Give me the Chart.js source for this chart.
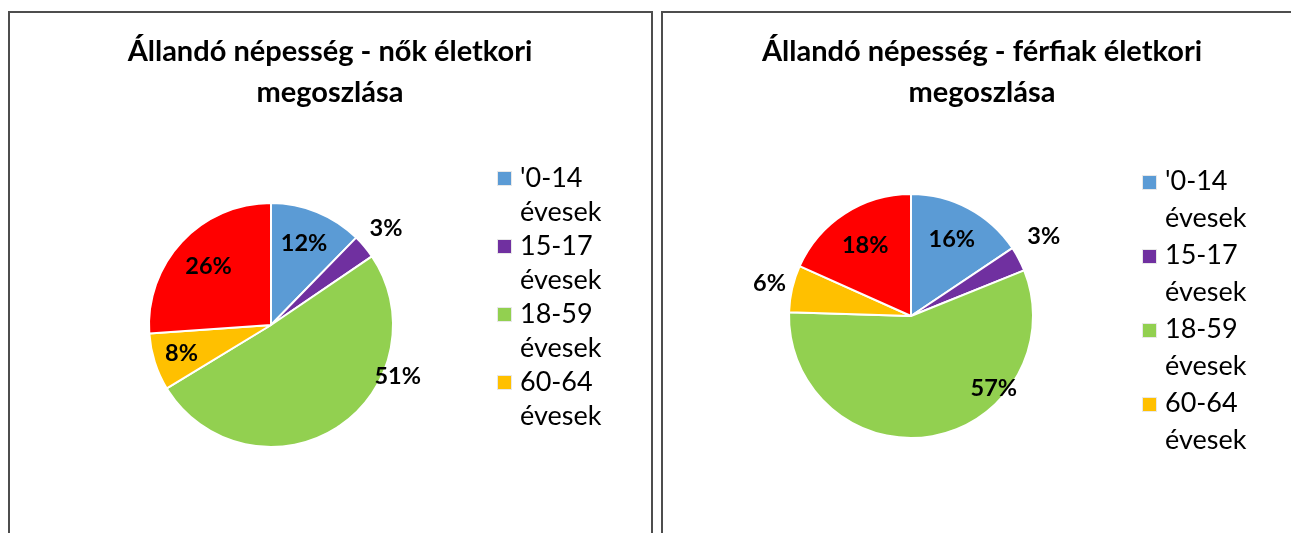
<!DOCTYPE html>
<html>
<head>
<meta charset="utf-8">
<script src="https://cdn.jsdelivr.net/npm/chart.js@4"></script>
<style>
    body { margin: 0; background: #fff; width: 1291px; height: 533px; overflow: hidden; position: relative; font-family: Lato, "Noto Sans", sans-serif; }
    .box { position: absolute; top: 11px; height: 540px; border: 2px solid #4d4d4d; box-sizing: border-box; }
    canvas { position: absolute; top: 13px; }
    .legend { position: absolute; font-size: 27px; color: #000; }
    .legend .item { position: relative; padding-left: 23px; }
    .legend .sw { position: absolute; left: 0; width: 13px; height: 13px; border: 1px solid #e8e8e8; }
</style>
</head>
<body>
<div class="box" style="left:8px; width:645px;"></div>
<div class="box" style="left:661px; width:660px;"></div>
<canvas id="nok-chart" width="640" height="520" style="left:10px;"></canvas>
<canvas id="ferfiak-chart" width="638" height="520" style="left:663px;"></canvas>
<div class="legend" id="nok-legend" style="left:497px; top:160px; line-height:34px;"></div>
<div class="legend" id="ferfiak-legend" style="left:1142px; top:161px; line-height:37px;"></div>
<script>
const ageGroups = ["'0-14 évesek", '15-17 évesek', '18-59 évesek', '60-64 évesek', '65 év feletti'];
const sliceColors = ['#5B9BD5', '#7030A0', '#92D050', '#FFC000', '#FF0000'];

// százalékos megoszlás
const nokValues = [12.3, 3.2, 50.8, 7.6, 26.1];
const ferfiakValues = [15.6, 3.3, 56.6, 6.2, 18.3];

// címkék helye: sugár szorzó, és ahol kell, szög (fokban, felülről)
const nokLabelRadius = [0.72, 1.23, 1.12, 0.77, 0.70];
const nokLabelAngle = [null, null, 112, null, null];
const ferfiakLabelRadius = [0.71, 1.27, 0.9, 1.19, 0.69];
const ferfiakLabelAngle = [null, 59, 131, null, null];

const FONT = 'Lato, "Noto Sans", sans-serif';

const pctLabels = {
    id: 'pctLabels',
    afterDatasetsDraw(chart, args, opts) {
        const ctx = chart.ctx;
        const data = chart.data.datasets[0].data;
        const total = data.reduce((acc, val) => acc + val, 0);
        ctx.save();
        ctx.font = 'bold 23.5px ' + FONT;
        ctx.fillStyle = '#000';
        ctx.textAlign = 'center';
        ctx.textBaseline = 'middle';
        chart.getDatasetMeta(0).data.forEach((arc, i) => {
            const p = arc.getProps(['x', 'y', 'startAngle', 'endAngle', 'outerRadius'], true);
            let angle = (p.startAngle + p.endAngle) / 2;
            if (opts.angles[i] !== null) {
                angle = opts.angles[i] * Math.PI / 180 - Math.PI / 2;
            }
            const r = p.outerRadius * opts.radius[i];
            const text = Math.round(data[i] / total * 100) + '%';
            ctx.fillText(text, p.x + Math.cos(angle) * r, p.y + Math.sin(angle) * r);
        });
        ctx.restore();
    }
};

// a cím a teljes doboz közepére kerül, nem a kördiagram fölé
const boxTitle = {
    id: 'boxTitle',
    afterDraw(chart, args, opts) {
        const ctx = chart.ctx;
        ctx.save();
        ctx.font = 'bold 29px ' + FONT;
        ctx.fillStyle = '#000';
        ctx.textAlign = 'center';
        ctx.textBaseline = 'middle';
        opts.lines.forEach((line, i) => {
            ctx.fillText(line, chart.width / 2, 39 + i * 41);
        });
        ctx.restore();
    }
};

function makePie(canvasId, titleLines, values, padding, labelRadius, labelAngle) {
    const canvas = document.getElementById(canvasId);
    const ctx = canvas.getContext('2d');
    return new Chart(ctx, {
        type: 'pie',
        data: {
            labels: ageGroups,
            datasets: [{
                data: values,
                backgroundColor: sliceColors,
                borderColor: '#ffffff',
                borderWidth: 2,
            }],
        },
        options: {
            responsive: false,
            animation: false,
            layout: { padding: padding },
            plugins: {
                legend: { display: false },
                tooltip: { enabled: false },
                boxTitle: { lines: titleLines },
                pctLabels: { radius: labelRadius, angles: labelAngle },
            },
        },
        plugins: [pctLabels, boxTitle],
    });
}

function buildLegend(divId) {
    const div = document.getElementById(divId);
    // a jelmagyarázatban csak az első négy fér el
    ageGroups.slice(0, 4).forEach((label, i) => {
        const parts = label.split(' ');
        const item = document.createElement('div');
        item.className = 'item';
        item.innerHTML = `<span class="sw" style="background:${sliceColors[i]}; top:calc(50% - 8px - 0.5em - 2px);"></span>${parts[0]}<br>${parts.slice(1).join(' ')}`;
        div.appendChild(item);
    });
}

makePie('nok-chart', ['Állandó népesség - nők életkori', 'megoszlása'], nokValues,
    { left: 138, right: 256, top: 189, bottom: 85 }, nokLabelRadius, nokLabelAngle);
makePie('ferfiak-chart', ['Állandó népesség - férfiak életkori', 'megoszlása'], ferfiakValues,
    { left: 125, right: 267, top: 180, bottom: 94 }, ferfiakLabelRadius, ferfiakLabelAngle);

buildLegend('nok-legend');
buildLegend('ferfiak-legend');
</script>
</body>
</html>
